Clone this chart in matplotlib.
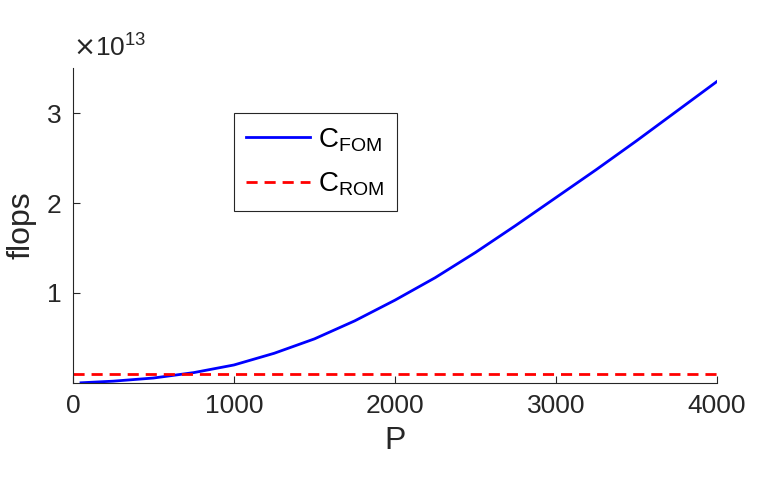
import matplotlib
matplotlib.use("Agg")
import matplotlib.pyplot as plt

plt.rcParams["font.family"] = "Liberation Sans"

P = [50, 250, 500, 750, 1000, 1250, 1500, 1750, 2000, 2250, 2500, 2750, 3000, 3250, 3500, 3750, 4000]
C_FOM = [0.002, 0.02, 0.055, 0.115, 0.2, 0.33, 0.49, 0.69, 0.92, 1.17, 1.45, 1.75, 2.06, 2.37, 2.69, 3.02, 3.35]
C_ROM = [0.1, 0.1]
P_ROM = [0, 4000]
xticks = [0, 1000, 2000, 3000, 4000]
yticks = [1, 2, 3]

fig = plt.figure(figsize=(7.57, 4.86), dpi=100)
ax = fig.add_axes([0.0964, 0.212, 0.8506, 0.648])
ax.plot(P, C_FOM, color="#0000ff", lw=2, label=r"C$_{\mathregular{FOM}}$")
ax.plot(P_ROM, C_ROM, color="#ff0000", lw=2, ls=(0, (4, 2.5)), label=r"C$_{\mathregular{ROM}}$")
ax.set_xlim(0, 4000)
ax.set_ylim(0, 3.5)
ax.set_xticks(xticks)
ax.set_yticks(yticks)
ax.tick_params(direction="in", labelsize=19, colors="#262626", length=5, pad=8)
for s in ["top", "right"]:
    ax.spines[s].set_visible(False)
for s in ["left", "bottom"]:
    ax.spines[s].set_color("#262626")
ax.set_xlabel("P", fontsize=23, color="#262626", labelpad=6)
ax.set_ylabel("flops", fontsize=23, color="#262626", labelpad=8)
ax.text(0.0, 1.02, r"$\times\mathregular{10^{13}}$", transform=ax.transAxes, fontsize=19, color="#262626", va="bottom", ha="left")
leg = ax.legend(loc="upper left", bbox_to_anchor=(0.228, 0.9), fontsize=20, fancybox=False,
                edgecolor="#262626", framealpha=1, handlelength=2.3, borderpad=0.45, labelspacing=0.6,
                handletextpad=0.3)
leg.get_frame().set_linewidth(0.8)
fig.savefig("out.png", dpi=100)
